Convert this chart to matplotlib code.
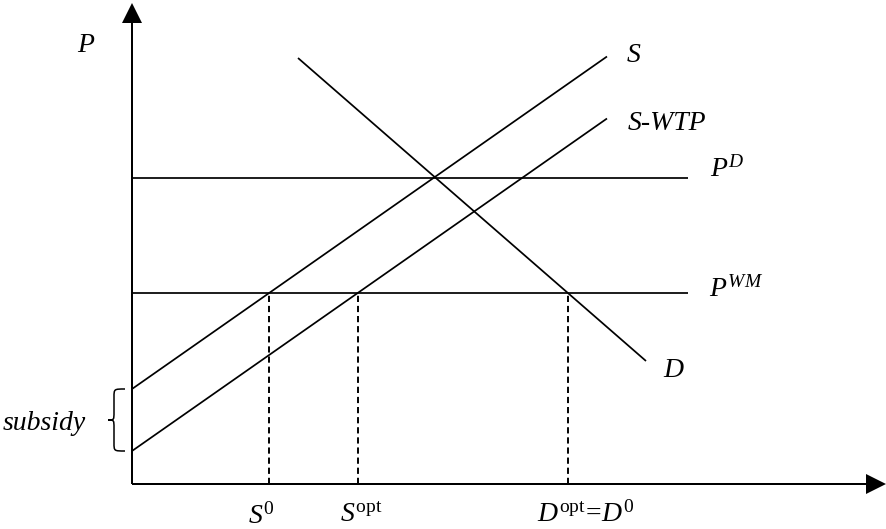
import numpy as np
import matplotlib
matplotlib.use("Agg")
import matplotlib.pyplot as plt
from matplotlib.path import Path
from matplotlib.patches import PathPatch

# Fonts: Times-like italic serif for all labels
plt.rcParams['font.family'] = 'Liberation Serif'
plt.rcParams['mathtext.fontset'] = 'custom'
plt.rcParams['mathtext.rm'] = 'Liberation Serif'
plt.rcParams['mathtext.it'] = 'Liberation Serif:italic'

# Curves (quantity, price)
supply_q = [0.0, 47.5]
supply_p = [9.5, 42.75]
supply_wtp_q = [0.0, 47.5]
supply_wtp_p = [3.3, 36.55]
demand_q = [16.6, 51.4]
demand_p = [42.6, 12.3]

# Price levels
price_levels = [30.6, 19.1]  # P^D, P^WM
price_line_end = 55.6

# Quantities at the world market price
quantities = [13.7, 22.6, 43.6]  # S0, Sopt, Dopt=D0

# Axis extents
q_max = 75.4
p_max = 48.1

fig = plt.figure(figsize=(8.87, 5.29), dpi=100)
ax = fig.add_axes([0, 0, 1, 1])
ax.set_xlim(-13.2, 75.5)
ax.set_ylim(-4.5, 48.4)
ax.axis("off")

# Axes with arrow heads
ax.arrow(0, 0, 0, p_max, width=0.2, head_width=2.0, head_length=2.0,
         length_includes_head=True, color="black", lw=0)
ax.arrow(0, 0, q_max, 0, width=0.2, head_width=2.0, head_length=2.0,
         length_includes_head=True, color="black", lw=0)

# Supply, supply minus WTP and demand
ax.plot(supply_q, supply_p, color="black", lw=1.25, solid_capstyle="butt")
ax.plot(supply_wtp_q, supply_wtp_p, color="black", lw=1.25, solid_capstyle="butt")
ax.plot(demand_q, demand_p, color="black", lw=1.25, solid_capstyle="butt")

# Horizontal price lines
for p in price_levels:
    ax.plot([0, price_line_end], [p, p], color="black", lw=1.25, solid_capstyle="butt")

# Dashed drop lines
for q in quantities:
    ax.plot([q, q], [0, price_levels[1]], color="black", lw=1.4,
            linestyle=(0, (3.2, 2.0)))

# Brace showing the subsidy gap
top = supply_p[0]
bot = supply_wtp_p[0]
mid = (top + bot) / 2
x0 = -0.7
xb = -1.8
xt = -2.4
verts = [(x0, top), (xb, top), (xb, top), (xb, top - 0.8),
         (xb, mid + 0.8),
         (xb, mid), (xb, mid), (xt, mid),
         (xb, mid), (xb, mid), (xb, mid - 0.8),
         (xb, bot + 0.8),
         (xb, bot), (xb, bot), (x0, bot)]
codes = [Path.MOVETO, Path.CURVE4, Path.CURVE4, Path.CURVE4,
         Path.LINETO,
         Path.CURVE4, Path.CURVE4, Path.CURVE4,
         Path.CURVE4, Path.CURVE4, Path.CURVE4,
         Path.LINETO,
         Path.CURVE4, Path.CURVE4, Path.CURVE4]
ax.add_patch(PathPatch(Path(verts, codes), facecolor="none", edgecolor="black", lw=1.1))

# Labels
fs = 20
ax.text(-5.5, 43.2, "P", fontsize=fs, style="italic", ha="left", va="baseline")
ax.text(49.5, 42.2, "S", fontsize=fs, style="italic", ha="left", va="baseline")
ax.text(49.6, 35.4, "S-WTP", fontsize=fs, style="italic", ha="left", va="baseline")
ax.text(57.8, 30.7, r"$P^{D}$", fontsize=fs, ha="left", va="baseline")
ax.text(57.7, 18.7, r"$P^{WM}$", fontsize=fs, ha="left", va="baseline")
ax.text(53.1, 10.7, "D", fontsize=fs, style="italic", ha="left", va="baseline")
ax.text(-12.9, 5.4, "subsidy", fontsize=fs, style="italic", ha="left", va="baseline")
ax.text(11.6, -4.0, r"$S^{\mathrm{0}}$", fontsize=fs, ha="left", va="baseline")
ax.text(20.8, -3.8, r"$S^{\mathrm{opt}}$", fontsize=fs, ha="left", va="baseline")
ax.text(40.5, -3.8, r"$D^{\mathrm{opt}}\!\mathrm{=}\!D^{\mathrm{0}}$", fontsize=fs,
        ha="left", va="baseline")

fig.savefig("out.png", dpi=100)
